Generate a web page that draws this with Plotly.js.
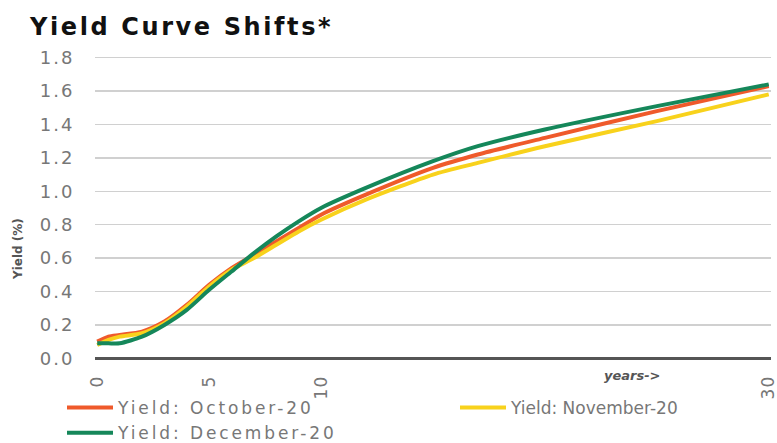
<!DOCTYPE html>
<html>
<head>
<meta charset="utf-8">
<script src="https://cdn.plot.ly/plotly-3.0.1.min.js"></script>
<style>
html,body{margin:0;padding:0;background:#fff}
#chart{width:777px;height:443px}
#chart .ytick text{letter-spacing:2px}
#chart .xtick text{letter-spacing:1px}
.legendtext{letter-spacing:2.9px}
.gtitle{letter-spacing:2.6px}
</style>
</head>
<body>
<div id="chart"></div>
<script>
const maturities = [0, 0.5, 1, 2, 3, 4, 5, 6, 7, 8, 9, 10, 12, 15, 17, 20, 25, 30];
const yieldOct = [0.10, 0.13, 0.14, 0.16, 0.22, 0.32, 0.44, 0.54, 0.62, 0.70, 0.78, 0.86, 0.98, 1.14, 1.22, 1.32, 1.48, 1.63];
const yieldNov = [0.08, 0.11, 0.13, 0.15, 0.21, 0.31, 0.43, 0.53, 0.60, 0.68, 0.76, 0.83, 0.95, 1.10, 1.17, 1.27, 1.42, 1.58];
const yieldDec = [0.09, 0.09, 0.09, 0.13, 0.20, 0.29, 0.41, 0.52, 0.63, 0.73, 0.82, 0.90, 1.02, 1.18, 1.27, 1.37, 1.51, 1.64];
const seriesNames = ['Yield: October-20', 'Yield: November-20', 'Yield: December-20'];
const xTickVals = [0, 5, 10, 30];
const xTickText = ['0', '5', '10', '30'];
const yTickVals = [0, 0.2, 0.4, 0.6, 0.8, 1.0, 1.2, 1.4, 1.6, 1.8];
const yTickText = ['0.0', '0.2', '0.4', '0.6', '0.8', '1.0', '1.2', '1.4', '1.6', '1.8'];

const font = 'DejaVu Sans, sans-serif';
const mk = (y, name, color, legend, group) => ({
  x: maturities, y: y, name: name, type: 'scatter', mode: 'lines',
  legend: legend, legendgroup: group,
  line: {color: color, width: 4, shape: 'spline', smoothing: 0.7}
});
const data = [
  mk(yieldOct, seriesNames[0], '#EF5A2B', 'legend', 'a'),
  mk(yieldNov, seriesNames[1], '#F8D21C', 'legend2', 'b'),
  mk(yieldDec, seriesNames[2], '#15875A', 'legend', 'c')
];
const L = 95, R = 6, T = 56, B = 83;
const W = 777, H = 443;
const pw = W - L - R, ph = H - T - B;
const px = v => (v - L) / pw;          // pixel x -> paper x
const py = v => (H - B - v) / ph;      // pixel y -> paper y
const legendStyle = {
  orientation: 'v', xref: 'container', xanchor: 'left',
  yref: 'container', yanchor: 'top',
  font: {family: font, size: 17, color: '#777'},
  itemwidth: 46, tracegroupgap: 0, bgcolor: 'rgba(0,0,0,0)'
};
const layout = {
  width: W, height: H,
  margin: {l: L, r: R, t: T, b: B, autoexpand: false},
  paper_bgcolor: '#fff', plot_bgcolor: '#fff',
  showlegend: true,
  title: {text: '<b>Yield Curve Shifts*</b>', x: 30 / W, xanchor: 'left', xref: 'container',
          y: 1 - 27 / H, yanchor: 'middle', yref: 'container', automargin: false,
          font: {family: font, size: 24, color: '#111'}},
  xaxis: {
    range: [-0.1, 30.1], tickvals: xTickVals, ticktext: xTickText, tickangle: -90,
    showgrid: false, zeroline: false, showline: false,
    ticks: 'outside', ticklen: 8, tickcolor: 'rgba(0,0,0,0)',
    ticklabeloverflow: 'allow',
    tickfont: {family: font, size: 17, color: '#777'}
  },
  yaxis: {
    range: [-0.01, 1.81], tickvals: yTickVals, ticktext: yTickText,
    showgrid: true, gridcolor: '#d0d0d0', gridwidth: 1.5,
    zeroline: true, zerolinecolor: '#555', zerolinewidth: 2.5,
    ticks: 'outside', ticklen: 16, tickcolor: 'rgba(0,0,0,0)',
    tickfont: {family: font, size: 18, color: '#777'}
  },
  legend: Object.assign({}, legendStyle, {x: 62 / W, y: 1 - 390 / H}),
  legend2: Object.assign({}, legendStyle, {x: 455 / W, y: 1 - 390 / H}),
  annotations: [
    {text: '<b><i>years-></i></b>', x: 23.9, xref: 'x', y: py(375), yref: 'paper', yanchor: 'middle',
     showarrow: false, font: {family: font, size: 13, color: '#555'}},
    {text: '<b>Yield (%)</b>', x: px(18), xref: 'paper', xanchor: 'center',
     y: py(249), yref: 'paper', yanchor: 'middle',
     showarrow: false, textangle: -90, font: {family: font, size: 12, color: '#555'}}
  ]
};
Plotly.newPlot('chart', data, layout, {displayModeBar: false, staticPlot: true});
</script>
</body>
</html>
